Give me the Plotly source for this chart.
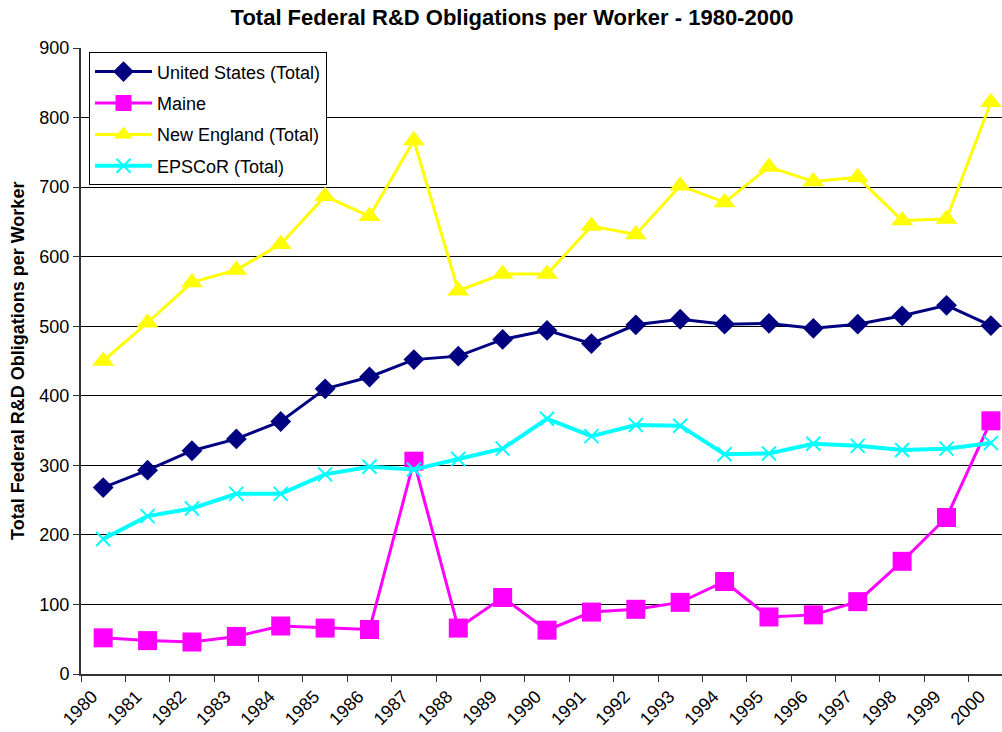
import plotly.graph_objects as go

years = [str(y) for y in range(1980, 2001)]
us_total = [268, 293, 321, 338, 363, 410, 427, 452, 457, 481, 494, 475, 502, 510, 503, 504, 497, 503, 515, 530, 501]
maine = [52, 48, 46, 54, 69, 66, 64, 306, 66, 110, 63, 89, 93, 103, 133, 82, 85, 104, 162, 225, 364]
new_england = [450, 505, 563, 581, 618, 687, 658, 767, 551, 575, 575, 644, 632, 702, 678, 729, 708, 714, 652, 654, 822]
epscor = [194, 227, 238, 259, 259, 287, 298, 294, 309, 324, 367, 342, 358, 357, 316, 317, 331, 328, 322, 324, 332]

FONT = "Arial, Liberation Sans, sans-serif"

fig = go.Figure()
fig.add_trace(go.Scatter(
    x=years, y=us_total, name="United States (Total)", mode="lines+markers",
    line=dict(color="#000080", width=3),
    marker=dict(symbol="diamond", size=16, color="#000080"),
    legendgroup="a"))
fig.add_trace(go.Scatter(
    x=years, y=maine, name="Maine", mode="lines+markers",
    line=dict(color="#FF00FF", width=3),
    marker=dict(symbol="square", size=19, color="#FF00FF"),
    legendgroup="b"))
fig.add_trace(go.Scatter(
    x=years, y=new_england, name="New England (Total)", mode="lines+markers",
    line=dict(color="#FFFF00", width=3),
    marker=dict(symbol="triangle-up", size=19, color="#FFFF00"),
    legendgroup="c"))
fig.add_trace(go.Scatter(
    x=years, y=epscor, name="EPSCoR (Total)", mode="lines+markers",
    line=dict(color="#00FFFF", width=4),
    marker=dict(symbol="x-thin", size=14, color="#00FFFF",
                line=dict(color="#00FFFF", width=2)),
    legendgroup="d"))

fig.update_layout(
    width=1002, height=732,
    margin=dict(l=81, r=0, t=48, b=58),
    paper_bgcolor="white", plot_bgcolor="white",
    font=dict(family=FONT, size=18, color="black"),
    title=dict(text="<b>Total Federal R&D Obligations per Worker - 1980-2000</b>",
               x=512 / 1002, xref="container", xanchor="center",
               y=1 - 17 / 732, yref="container", yanchor="middle",
               font=dict(family=FONT, size=22, color="black")),
    showlegend=True,
    legend=dict(x=0.0087, y=0.993, xanchor="left", yanchor="top",
                bordercolor="black", borderwidth=1, bgcolor="white",
                font=dict(family=FONT, size=18, color="black"),
                tracegroupgap=5, traceorder="grouped", itemwidth=57),
)

fig.update_xaxes(
    type="category", range=[-0.5, 20.25], tickson="boundaries",
    ticks="outside", ticklen=6, tickcolor="#333", tickwidth=1,
    showline=True, linecolor="#333", linewidth=2,
    showgrid=False, tickangle=-45, automargin=False,
    ticklabelstandoff=3, ticklabelshift=-11,
    tickfont=dict(family=FONT, size=18, color="black"),
)
fig.update_yaxes(
    range=[0, 900], dtick=100, tick0=0,
    ticks="outside", ticklen=6, tickcolor="#333", tickwidth=1,
    showline=True, linecolor="#333", linewidth=2,
    showgrid=True, gridcolor="#000000", gridwidth=1,
    zeroline=False, automargin=False,
    tickfont=dict(family=FONT, size=18, color="black"),
)

fig.add_annotation(
    text="<b>Total Federal R&D Obligations per Worker</b>",
    xref="paper", yref="paper", x=-63 / 921, y=0.5,
    xanchor="center", yanchor="middle", textangle=-90, showarrow=False,
    font=dict(family=FONT, size=18, color="black"))

fig.write_html("out.html", config={"displayModeBar": False},
               post_script="document.body.style.margin='0';document.body.style.overflow='hidden';")
